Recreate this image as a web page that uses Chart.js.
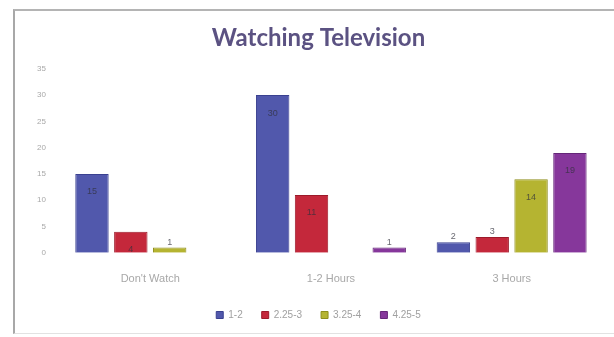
<!DOCTYPE html>
<html>
<head>
<meta charset="utf-8">
<script src="https://cdn.jsdelivr.net/npm/chart.js@4/dist/chart.umd.min.js"></script>
<style>
  html, body { margin: 0; padding: 0; background: #fff; }
  #wrap { position: relative; width: 614px; height: 337px; overflow: hidden; }
  #frame {
    position: absolute; left: 13px; top: 9px; width: 640px; height: 322px;
    border-left: 2px solid #a8a8a8; border-top: 2px solid #b4b4b4; border-bottom: 1px solid #e2e2e2;
  }
  canvas { position: absolute; left: 0; top: 0; }
</style>
</head>
<body>
<div id="wrap">
  <div id="frame"></div>
  <canvas id="c" width="614" height="337"></canvas>
</div>
<script>
// Hours of television watched, grouped by answer category
const categories = ["Don't Watch", "1-2 Hours", "3 Hours"];
const seriesNames = ["1-2", "2.25-3", "3.25-4", "4.25-5"];
const series1 = [15, 30, 2];   // 1-2
const series2 = [4, 11, 3];    // 2.25-3
const series3 = [1, 0, 14];    // 3.25-4
const series4 = [0, 1, 19];    // 4.25-5
const yTicks = [0, 5, 10, 15, 20, 25, 30, 35];

const fills = ['#5158ac', '#c4283b', '#b5b431', '#86379b'];
const edges = ['#3a4190', '#9c1a2a', '#8f8e1c', '#652679'];

const allSeries = [series1, series2, series3, series4];

// Value labels: inside the top of tall bars, just above short ones
const valueLabels = {
  id: 'valueLabels',
  afterDatasetsDraw(chart) {
    const ctx = chart.ctx;
    ctx.save();
    ctx.font = '9px "Liberation Sans", sans-serif';
    ctx.textAlign = 'center';
    ctx.fillStyle = 'rgba(50,50,60,0.75)';
    chart.data.datasets.forEach((ds, di) => {
      const meta = chart.getDatasetMeta(di);
      meta.data.forEach((bar, i) => {
        const v = ds.data[i];
        if (!v) return;
        if (v >= 4) {
          ctx.textBaseline = 'middle';
          ctx.fillText(String(v), bar.x, bar.y + 18);
        } else {
          ctx.textBaseline = 'bottom';
          ctx.fillText(String(v), bar.x, bar.y - 1);
        }
      });
    });
    ctx.restore();
  }
};

// Nudge the title and legend slightly off the layout centre
const headerShift = {
  id: 'headerShift',
  afterLayout(chart) {
    const dx = 2;
    [chart.titleBlock, chart.legend].forEach(b => {
      if (b) { b.left += dx; b.right += dx; }
    });
  }
};

new Chart(document.getElementById('c'), {
  type: 'bar',
  data: {
    labels: categories,
    datasets: allSeries.map((vals, k) => ({
      label: seriesNames[k],
      data: vals,
      backgroundColor: fills[k],
      borderColor: edges[k],
      borderWidth: 1,
      categoryPercentage: 0.86,
      barPercentage: 0.86
    }))
  },
  options: {
    responsive: false,
    animation: false,
    devicePixelRatio: 1,
    layout: { padding: { top: 24, left: 31, right: 12, bottom: 7 } },
    plugins: {
      title: {
        display: true,
        text: 'Watching Television',
        color: '#5b5282',
        font: { family: 'Lato', size: 24, weight: 'bold' },
        padding: { top: 0, bottom: 16 }
      },
      legend: {
        position: 'bottom',
        labels: {
          boxWidth: 7, boxHeight: 7, padding: 19,
          color: '#a0a0a0',
          font: { family: 'Liberation Sans', size: 10 }
        }
      },
      tooltip: { enabled: false }
    },
    scales: {
      x: {
        grid: { display: false },
        border: { display: false },
        ticks: { color: '#a8a8a8', font: { family: 'Liberation Sans', size: 11 }, padding: 12 },
        afterFit(axis) { axis.height -= 7; }
      },
      y: {
        min: 0, max: 35,
        afterBuildTicks(axis) { axis.ticks = yTicks.map(v => ({ value: v })); },
        grid: { display: false },
        border: { display: false },
        ticks: { color: '#a8a8a8', font: { family: 'Liberation Sans', size: 8 }, padding: 6 }
      }
    }
  },
  plugins: [valueLabels, headerShift]
});
</script>
</body>
</html>
